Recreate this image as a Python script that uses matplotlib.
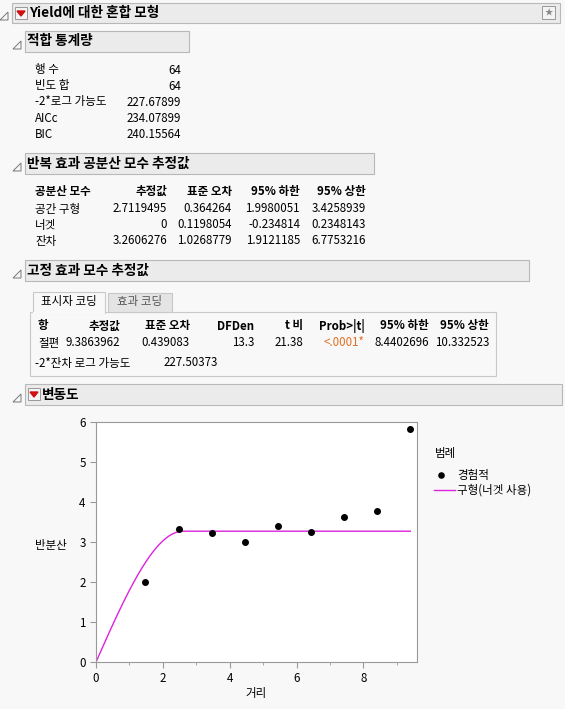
import numpy as np
import matplotlib.pyplot as plt
from matplotlib.patches import Rectangle, Polygon

plt.rcParams['font.family'] = ['Noto Sans CJK KR', 'DejaVu Sans']

W, H = 565, 709

# data
fit_labels = ['행 수', '빈도 합', '-2*로그 가능도', 'AICc', 'BIC']
fit_values = ['64', '64', '227.67899', '234.07899', '240.15564']
cov_cols = ['공분산 모수', '추정값', '표준 오차', '95% 하한', '95% 상한']
cov_rows = [['공간 구형', '2.7119495', '0.364264', '1.9980051', '3.4258939'],
            ['너겟', '0', '0.1198054', '-0.234814', '0.2348143'],
            ['잔차', '3.2606276', '1.0268779', '1.9121185', '6.7753216']]
fix_cols = ['항', '추정값', '표준 오차', 'DFDen', 't 비', 'Prob>|t|', '95% 하한', '95% 상한']
fix_row = ['절편', '9.3863962', '0.439083', '13.3', '21.38', '<.0001*', '8.4402696', '10.332523']
dist = [1.47, 2.47, 3.47, 4.47, 5.45, 6.43, 7.42, 8.41, 9.40]
semivar = [2.00, 3.32, 3.22, 2.99, 3.41, 3.25, 3.62, 3.78, 5.83]
sill = 3.27
rng = 2.6

fig = plt.figure(figsize=(W / 100, H / 100), dpi=100, facecolor='#f8f8f8')
bg = fig.add_axes([0, 0, 1, 1])
bg.set_xlim(0, W)
bg.set_ylim(H, 0)
bg.axis('off')


def txt(x, y, s, ha='left', size=8.3, bold=False, color='black'):
    bg.text(x, y, s, ha=ha, va='center', fontsize=size,
            fontweight='bold' if bold else 'normal', color=color)


def header(x0, x1, y0, y1, s, dropdown=False):
    bg.add_patch(Rectangle((x0, y0), x1 - x0, y1 - y0, facecolor='#ebebeb',
                           edgecolor='#b8b8b8', lw=0.8))
    bg.add_patch(Polygon([[x0 - 4, y1 - 3], [x0 - 12, y1 - 3], [x0 - 4, y1 - 11]],
                         closed=True, facecolor='none', edgecolor='#777777', lw=0.7))
    tx = x0 + 2
    if dropdown:
        bg.add_patch(Rectangle((x0 + 3, y0 + 4), 12, 12, facecolor='#f4f4f4',
                               edgecolor='#999999', lw=0.7))
        bg.add_patch(Polygon([[x0 + 5, y0 + 8], [x0 + 13, y0 + 8], [x0 + 9, y0 + 13]],
                             closed=True, color='#d01010'))
        tx = x0 + 17
    txt(tx, (y0 + y1) / 2, s, size=9.8, bold=True)


header(12, 560, 3, 23, 'Yield에 대한 혼합 모형', dropdown=True)
bg.add_patch(Rectangle((542, 6), 13, 13, facecolor='#f4f4f4', edgecolor='#999999', lw=0.7))
txt(548.5, 12.5, '★', ha='center', size=6, color='#888888')

header(25, 189, 31, 52, '적합 통계량')
for i, (l, v) in enumerate(zip(fit_labels, fit_values)):
    y = 70 + i * 16
    txt(35, y, l)
    txt(181, y, v, ha='right')

header(25, 374, 153, 174, '반복 효과 공분산 모수 추정값')
cov_x = [35, 167, 232, 300, 366]
for j, c in enumerate(cov_cols):
    txt(cov_x[j], 191, c, ha='left' if j == 0 else 'right', bold=True)
for i, row in enumerate(cov_rows):
    for j, v in enumerate(row):
        txt(cov_x[j], 209 + i * 16, v, ha='left' if j == 0 else 'right')

header(25, 529, 260, 281, '고정 효과 모수 추정값')
bg.add_patch(Rectangle((30, 312), 466, 64, facecolor='#f8f8f8', edgecolor='#c8c8c8', lw=0.8))
bg.add_patch(Rectangle((33, 292), 72, 21, facecolor='#f8f8f8', edgecolor='#c8c8c8', lw=0.8))
bg.plot([34, 104], [312.5, 312.5], color='#f8f8f8', lw=1.5)
bg.add_patch(Rectangle((108, 293), 64, 19, facecolor='#e4e4e4', edgecolor='#c8c8c8', lw=0.8))
txt(69, 302, '표시자 코딩', ha='center')
txt(140, 302, '효과 코딩', ha='center', color='#555555')
fix_x = [38, 120, 190, 254, 303, 365, 429, 489]
for j, c in enumerate(fix_cols):
    txt(fix_x[j], 326, c, ha='left' if j == 0 else 'right', bold=True)
for j, v in enumerate(fix_row):
    txt(fix_x[j], 343, v, ha='left' if j == 0 else 'right',
        color='#e07020' if j == 5 else 'black')
txt(35, 363, '-2*잔차 로그 가능도')
txt(218, 363, '227.50373', ha='right')

header(25, 562, 384, 405, '변동도', dropdown=True)

# variogram plot
ax = fig.add_axes([96 / W, 1 - 662 / H, (417 - 96) / W, (662 - 422) / H])
ax.set_facecolor('white')
h = np.linspace(0, 9.4, 300)
g = np.where(h < rng, sill * (1.5 * h / rng - 0.5 * (h / rng) ** 3), sill)
ax.plot(h, g, color='#dd22dd', lw=1)
ax.scatter(dist, semivar, s=16, color='black', zorder=3)
ax.set_xlim(0, 9.6)
ax.set_ylim(0, 6)
ax.set_xticks([0, 2, 4, 6, 8])
ax.set_xticks([1, 3, 5, 7, 9], minor=True)
ax.set_yticks(range(7))
for s in ax.spines.values():
    s.set_color('#999999')
ax.tick_params(colors='#999999', labelcolor='black', labelsize=8.3, length=4)
ax.tick_params(which='minor', colors='#999999', length=2)
txt(35, 546, '반분산')
txt(256, 694, '거리', ha='center')

txt(435, 453, '범례')
bg.scatter([441], [475], s=14, color='black')
txt(457, 475, '경험적')
bg.plot([434, 455], [490, 490], color='#dd22dd', lw=1)
txt(457, 490, '구형(너겟 사용)')

fig.savefig('out.png', dpi=100, facecolor=fig.get_facecolor())
